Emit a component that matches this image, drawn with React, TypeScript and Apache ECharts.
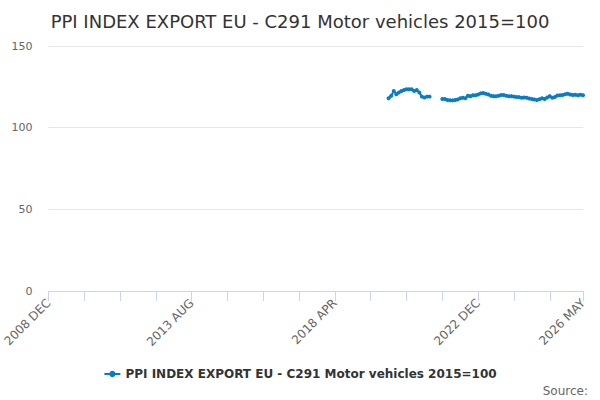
import { useEffect, useRef } from "react";
import * as echarts from "echarts";

const monthNames = ["JAN", "FEB", "MAR", "APR", "MAY", "JUN", "JUL", "AUG", "SEP", "OCT", "NOV", "DEC"];
const startYear = 2008;
const startMonth = 11; // DEC
const monthCount = 210; // 2008 DEC .. 2026 MAY

const categories: string[] = [];
for (let i = 0; i < monthCount; i++) {
  const m = startMonth + i;
  categories.push(`${startYear + Math.floor(m / 12)} ${monthNames[m % 12]}`);
}

// 2020 JAN .. 2021 MAY
const firstRunStart = 133;
const firstRun = [118, 119.5, 122.5, 120.5, 121.5, 122.5, 123, 123.5, 123.5, 123.5, 122.5, 123, 121.5, 119, 118.5, 119, 119];

// 2021 OCT .. 2026 MAY
const secondRunStart = 154;
const secondRun = [
  117.5, 117.5, 117, 116.8, 116.7, 117, 117.3, 118, 118.3, 118, 119.5, 119.3, 119.8, 119.8, 120.3, 121,
  121.2, 120.8, 120.3, 119.6, 119.3, 119.2, 119.5, 120, 120, 119.5, 119.2, 119.3, 119, 118.8, 118.7, 118.3,
  118.5, 118.3, 117.8, 117.5, 117.2, 117, 117.4, 118, 117.5, 118.5, 119.3, 118.3, 118.8, 119.7, 119.8, 120,
  120.4, 120.8, 120.3, 120, 120.2, 119.8, 120.1, 119.9,
];

const yTicks = [0, 50, 100, 150];
const seriesName = "PPI INDEX EXPORT EU - C291 Motor vehicles 2015=100";

const values: (number | null)[] = categories.map(() => null);
firstRun.forEach((v, i) => (values[firstRunStart + i] = v));
secondRun.forEach((v, i) => (values[secondRunStart + i] = v));

const font = "DejaVu Sans";

export default function App() {
  const chartRef = useRef<HTMLDivElement | null>(null);

  useEffect(() => {
    document.body.style.margin = "0";
    if (!chartRef.current) {
      return;
    }
    const chart = echarts.init(chartRef.current, undefined, { renderer: "svg" });
    const last = categories.length - 1;

    chart.setOption({
      animation: false,
      color: ["#0a7cc5"],
      textStyle: { fontFamily: font },
      title: {
        text: seriesName,
        left: "center",
        top: 7,
        textStyle: { fontFamily: font, fontSize: 18, fontWeight: "normal", color: "#333333" },
      },
      legend: {
        bottom: 15,
        left: "center",
        itemWidth: 16,
        itemHeight: 8,
        textStyle: { fontFamily: font, fontSize: 12, fontWeight: "bold", color: "#333333" },
        data: [seriesName],
      },
      grid: { left: 46, right: 17, top: 46, bottom: 109 },
      xAxis: {
        type: "category",
        boundaryGap: false,
        data: categories,
        axisLine: { lineStyle: { color: "#ccd6eb" } },
        axisTick: {
          length: 10,
          lineStyle: { color: "#ccd6eb" },
          interval: (i: number) => i % 14 === 0 || i === last,
        },
        axisLabel: {
          rotate: 45,
          color: "#666666",
          fontSize: 12,
          fontFamily: font,
          margin: 10,
          interval: (i: number) => i % 56 === 0 || i === last,
        },
        splitLine: { show: false },
      },
      yAxis: {
        type: "value",
        min: yTicks[0],
        max: yTicks[yTicks.length - 1],
        interval: 50,
        axisLine: { show: false },
        axisTick: { show: false },
        axisLabel: { color: "#666666", fontSize: 11, fontFamily: font, margin: 16 },
        splitLine: { lineStyle: { color: "#e6e6e6" } },
      },
      series: [
        {
          name: seriesName,
          type: "line",
          data: values,
          showSymbol: true,
          showAllSymbol: true,
          symbol: "circle",
          symbolSize: 4,
          lineStyle: { width: 2 },
          connectNulls: false,
        },
      ],
      graphic: [
        {
          type: "text",
          right: 12,
          bottom: 3,
          style: { text: "Source:", fontFamily: font, fontSize: 12, fill: "#666666" },
        },
      ],
    });

    return () => {
      chart.dispose();
    };
  }, []);

  return <div ref={chartRef} style={{ width: 600, height: 400 }} />;
}
